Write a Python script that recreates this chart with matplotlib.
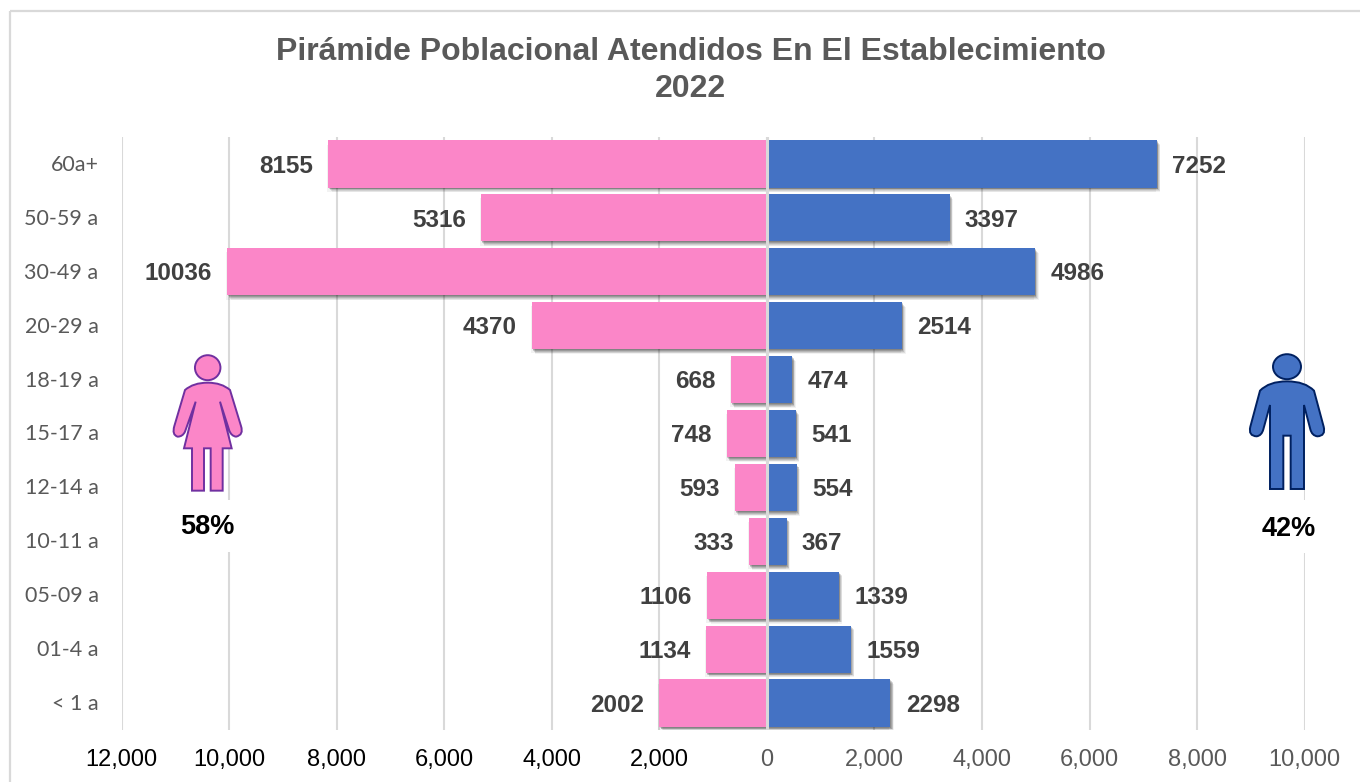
import matplotlib
matplotlib.use("Agg")
import matplotlib.pyplot as plt
from matplotlib.patches import PathPatch, Ellipse, Rectangle
from matplotlib.path import Path
from matplotlib.transforms import Affine2D
import matplotlib.patheffects as pe

categories = ["60a+", "50-59 a", "30-49 a", "20-29 a", "18-19 a", "15-17 a",
              "12-14 a", "10-11 a", "05-09 a", "01-4 a", "< 1 a"]
mujeres = [8155, 5316, 10036, 4370, 668, 748, 593, 333, 1106, 1134, 2002]
hombres = [7252, 3397, 4986, 2514, 474, 541, 554, 367, 1339, 1559, 2298]
xticks = [-12000, -10000, -8000, -6000, -4000, -2000, 0, 2000, 4000, 6000, 8000, 10000]
xticklabels = ["12,000", "10,000", "8,000", "6,000", "4,000", "2,000", "0",
               "2,000", "4,000", "6,000", "8,000", "10,000"]
titulo_1 = "Pirámide Poblacional Atendidos En El Establecimiento"
titulo_2 = "2022"
pct_mujeres = "58%"
pct_hombres = "42%"

PINK = "#FB86C8"
BLUE = "#4472C4"
W, H = 1360, 782
plt.rcParams["font.family"] = ["Liberation Sans", "DejaVu Sans"]

fig = plt.figure(figsize=(W / 100, H / 100), dpi=100, facecolor="white")
px = Affine2D().scale(1, -1).translate(0, H)  # reference pixels -> display

fig.add_artist(Rectangle((9.5, 10.5), 1400, 800, transform=px, fill=False,
                         edgecolor="#D9D9D9", linewidth=1.6))

L, R, T, B = 121.5, 1304.7, 137, 730
ax = fig.add_axes([L / W, 1 - B / H, (R - L) / W, (B - T) / H])
ax.set_xlim(-12000, 10000)
n = len(categories)
ax.set_ylim(n - 0.5, -0.5)
for s in ax.spines.values():
    s.set_visible(False)
ax.set_facecolor("none")
ax.grid(axis="x", color="#D9D9D9", linewidth=1.5, zorder=0)
ax.set_axisbelow(True)
ax.set_xticks(xticks)
ax.set_xticklabels(xticklabels, fontsize=17)
ax.set_yticks(range(n))
ax.set_yticklabels(categories, fontsize=15.5, color="#595959", family=["Lato", "DejaVu Sans"])
ax.tick_params(length=0)
ax.tick_params(axis="x", pad=13.5)
ax.tick_params(axis="y", pad=16.5)
for lab, v in zip(ax.get_xticklabels(), xticks):
    lab.set_color("#000000" if v < 0 else "#595959")
for lab in ax.get_yticklabels():
    lab.set_transform(lab.get_transform() + Affine2D().translate(0, 1))

shadow = [pe.SimplePatchShadow(offset=(ox, -oy), shadow_rgbFace="k", alpha=a)
          for ox, oy, a in [(2.5, 3.4, 0.05), (-0.8, 3.0, 0.05), (2.0, 2.6, 0.09),
                            (1.5, 2.0, 0.12), (1.0, 1.4, 0.15), (0.5, 0.7, 0.15)]]
shadow.append(pe.Normal())
y = list(range(n))
barsM = ax.barh(y, [-v for v in mujeres], height=0.875, color=PINK, zorder=3)
barsH = ax.barh(y, hombres, height=0.875, color=BLUE, zorder=3)
for b in list(barsM) + list(barsH):
    b.set_path_effects(shadow)
ax.axvline(0, color="#D9D9D9", linewidth=2.2, zorder=4)

lab = dict(fontsize=17.5, fontweight="bold", color="#404040", va="center", zorder=5)
for i, (m, h) in enumerate(zip(mujeres, hombres)):
    ax.annotate(str(m), (-m, i), xytext=(-11, -1.6), textcoords="offset points", ha="right", **lab)
    ax.annotate(str(h), (h, i), xytext=(11, -1.6), textcoords="offset points", ha="left", **lab)

for t, ty in [(titulo_1, 51.5), (titulo_2, 89)]:
    fig.text(690.5 / W, 1 - ty / H, t, ha="center", va="center", fontsize=23.05,
             fontweight="bold", color="#595959")

# decorative icons, in reference pixels
def icon(points, ox, oy, face, edge):
    verts, codes = [], []
    for c, p in points:
        verts.append((ox + p[0] / 3, oy + p[1] / 3))
        codes.append(c)
    verts.append(verts[0]); codes.append(Path.CLOSEPOLY)
    fig.add_artist(PathPatch(Path(verts, codes), transform=px, facecolor=face,
                             edgecolor=edge, linewidth=1.4, zorder=6))

M, Ln, C = Path.MOVETO, Path.LINETO, Path.CURVE3
woman = [(M, (233, 128)), (C, (275, 128)), (C, (300, 150)), (Ln, (333, 258)), (C, (342, 285)),
         (C, (318, 290)), (C, (304, 288)), (C, (298, 272)), (Ln, (270, 185)), (Ln, (305, 325)),
         (Ln, (278, 325)), (Ln, (278, 452)), (Ln, (242, 452)), (Ln, (242, 325)), (Ln, (222, 325)),
         (Ln, (222, 452)), (Ln, (186, 452)), (Ln, (186, 325)), (Ln, (162, 325)), (Ln, (197, 185)),
         (Ln, (165, 275)), (C, (158, 290)), (C, (143, 290)), (C, (125, 285)), (C, (133, 258)),
         (Ln, (165, 150)), (C, (190, 128))]
man = [(M, (231, 124)), (C, (285, 124)), (C, (312, 152)), (Ln, (341, 260)), (C, (348, 288)),
       (C, (322, 289)), (C, (306, 287)), (C, (301, 268)), (Ln, (282, 195)), (Ln, (282, 447)),
       (Ln, (242, 447)), (Ln, (242, 287)), (Ln, (220, 287)), (Ln, (220, 447)), (Ln, (180, 447)),
       (Ln, (180, 195)), (Ln, (160, 268)), (C, (155, 287)), (C, (140, 289)), (C, (114, 288)),
       (C, (121, 260)), (Ln, (150, 152)), (C, (177, 124))]
icon(woman, 130, 340, PINK, "#7030A0")
icon(man, 1210, 340, BLUE, "#002060")
fig.add_artist(Ellipse((207.7, 367.7), 25.5, 25, transform=px, facecolor=PINK,
                       edgecolor="#7030A0", linewidth=1.4, zorder=6))
fig.add_artist(Ellipse((1287, 366.7), 28, 25, transform=px, facecolor=BLUE,
                       edgecolor="#002060", linewidth=1.4, zorder=6))

for cx, top, bot, t, ty in [(207.5, 500, 552, pct_mujeres, 526.5), (1288.5, 500, 553, pct_hombres, 528.5)]:
    fig.add_artist(Rectangle((cx - 34, top), 68, bot - top, transform=px, facecolor="white",
                             edgecolor="none", zorder=5))
    fig.text(cx / W, 1 - ty / H, t, ha="center", va="center", fontsize=19.5,
             fontweight="bold", color="black", zorder=7)

fig.savefig("out.png", dpi=100, facecolor="white")
